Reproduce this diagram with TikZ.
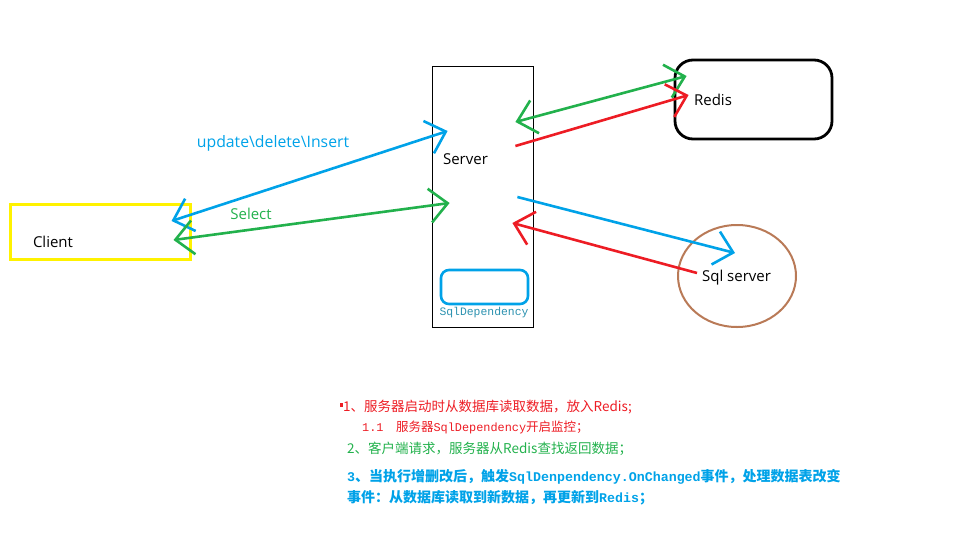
\documentclass[tikz,border=0pt]{standalone}
\usepackage{fontspec}
\setmainfont{Open Sans}
\newfontfamily\cjk{Noto Sans CJK SC}
\newfontfamily\mono{Liberation Mono}[Scale=0.95]
\newfontfamily\monotag{Liberation Mono}
\usepackage{xcolor}
\usepackage{tikz}
\usetikzlibrary{arrows.meta,positioning,calc,shapes.geometric}

\definecolor{pblue}{HTML}{00A2E8}
\definecolor{pgreen}{HTML}{22B14C}
\definecolor{pred}{HTML}{ED1C24}
\definecolor{pyellow}{HTML}{FFF200}
\definecolor{pbrown}{HTML}{B97A57}
\definecolor{ptype}{HTML}{2B91AF}

\begin{document}
\begin{tikzpicture}[
  x=1pt,y=-1pt,
  font=\fontsize{15}{18}\selectfont,
  >={Straight Barb[length=18pt,width=34pt]},
  ar/.style={line width=2.6pt},
  lbl/.style={inner sep=0pt},
  note/.style={anchor=west,inner sep=0pt,font=\cjk\fontsize{13.5}{16}\selectfont},
  subnote/.style={anchor=west,inner sep=0pt,font=\cjk\fontsize{12.5}{15}\selectfont},
  bignote/.style={anchor=west,inner sep=0pt,align=left,
                  font=\cjk\bfseries\fontsize{14}{21}\selectfont}
]
\useasboundingbox (0,0) rectangle (955,557);

%%%%%%%%%%%%%%%%%%%%%% nodes %%%%%%%%%%%%%%%%%%%%%%%%%%%%%%%%%%%%%%%%%%%%%%%
\node[draw=pyellow,line width=3pt,minimum width=180pt,minimum height=55pt] (cli) at (100,231.5) {};
\node[lbl] (clilbl) at (53,242) {Client};

\node[draw=black,line width=0.8pt,minimum width=101pt,minimum height=261pt] (srv) at (482.5,196.5) {};
\node[lbl] (srvlbl) at (465.5,159) {Server};
\node[draw=pblue,line width=2.6pt,rounded corners=8pt,minimum width=87pt,minimum height=34pt] (dep) at (484.5,287) {};
\node[lbl,text=ptype,font=\monotag\fontsize{11.4}{13}\selectfont] (deplbl) at (484,313) {SqlDependency};

\node[draw=black,line width=2.8pt,rounded corners=18pt,minimum width=157pt,minimum height=79pt] (redis) at (753.5,99.5) {};
\node[lbl] (redislbl) at (713,100) {Redis};

\node[ellipse,draw=pbrown,line width=2pt,minimum width=118pt,minimum height=102pt] (sql) at (737,276) {};
\node[lbl] (sqllbl) at (736.5,277.5) {Sql server};

%%%%%%%%%%%%%%%%%%%%%% connector ends %%%%%%%%%%%%%%%%%%%%%%%%%%%%%%%%%%%%%%
\coordinate (cliU) at ($(cli.east)+(-20,-10.5)$);
\coordinate (cliS) at ($(cli.east)+(-18,8.5)$);
\coordinate (srvU) at ($(srv.west)+(16,-65.5)$);
\coordinate (srvS) at ($(srv.west)+(18,6.5)$);
\coordinate (srvG) at ($(srv.east)+(-18,-74.5)$);
\coordinate (srvR) at ($(srv.east)+(-18,-50.5)$);
\coordinate (srvB) at ($(srv.east)+(-16,0.5)$);
\coordinate (srvQ) at ($(srv.east)+(-21,26.5)$);
\coordinate (redG) at ($(redis.west)+(13,-23.5)$);
\coordinate (redR) at ($(redis.west)+(15,-4.5)$);
\coordinate (sqlB) at ($(sql.center)+(-2,-23)$);
\coordinate (sqlR) at ($(sql.center)+(-40,-3)$);

%%%%%%%%%%%%%%%%%%%%%% connectors %%%%%%%%%%%%%%%%%%%%%%%%%%%%%%%%%%%%%%%%%%
\draw[ar,pblue,<->] (cliU) -- (srvU);
\node[lbl,text=pblue,font=\fontsize{15.8}{18}\selectfont] (updlbl) at (273,143) {update\textbackslash delete\textbackslash Insert};
\draw[ar,pgreen,<->] (cliS) -- (srvS);
\node[lbl,text=pgreen] (sellbl) at (251,214) {Select};

\draw[ar,pgreen,<->] (srvG) -- (redG);
\draw[ar,pred,->] (srvR) -- (redR);
\draw[ar,pblue,->] (srvB) -- (sqlB);
\draw[ar,pred,->] (sqlR) -- (srvQ);

%%%%%%%%%%%%%%%%%%%%%% notes %%%%%%%%%%%%%%%%%%%%%%%%%%%%%%%%%%%%%%%%%%%%%%%
\fill[pred] (340,403) rectangle (342.5,407) coordinate (dot);
\node[note,text=pred] (n1) at (343,407) {1、服务器启动时从数据库读取数据，放入Redis;};
\node[subnote,text=pred] (n11) at (362,427) {{\mono 1.1}　服务器{\mono SqlDependency}开启监控；};
\node[note,text=pgreen] (n2) at (347,449) {2、客户端请求，服务器从Redis查找返回数据；};
\node[bignote,text=pblue] (n3) at (347,487.5) {{\mono 3}、当执行增删改后，触发{\mono SqlDenpendency.OnChanged}事件，处理数据表改变\\事件：从数据库读取到新数据，再更新到{\mono Redis}；};
\end{tikzpicture}
\end{document}
